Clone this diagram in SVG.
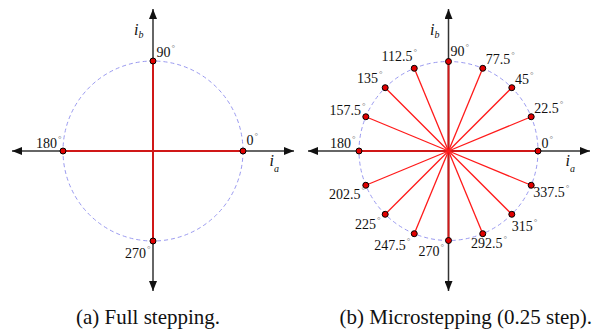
<svg xmlns="http://www.w3.org/2000/svg" width="596" height="332" viewBox="0 0 596 332">
<defs>
<marker id="ah" viewBox="0 0 10 8" refX="10" refY="4" markerWidth="10" markerHeight="8" markerUnits="userSpaceOnUse" orient="auto">
<path d="M0,0 L10,4 L0,8 Z" fill="#111"/>
</marker>
</defs>
<style>
.axis{stroke:#333;stroke-width:1.5;fill:none}
.circ{stroke:#9a9af0;stroke-width:1;stroke-dasharray:4 3;fill:none}
.main{stroke:#d01818;stroke-width:2;fill:none}
.ray{stroke:#ff1a1a;stroke-width:1.3;fill:none}
.dot{fill:#e00000;stroke:#000;stroke-width:1}
text{font-family:"Liberation Serif","Times New Roman",serif;fill:#111}
.lbl{font-size:14px}
.deg{font-size:9px;fill:#777}
.var{font-size:16px;font-style:italic}
.sub{font-size:10px;font-style:italic}
.cap{font-size:21px}
</style>

<g id="panel-a">
<g id="a-connectors">
<circle class="circ" cx="153" cy="151" r="90"/>
<line class="axis" x1="153" y1="151" x2="294" y2="151" marker-end="url(#ah)"/>
<line class="axis" x1="153" y1="151" x2="12" y2="151" marker-end="url(#ah)"/>
<line class="axis" x1="153" y1="151" x2="153" y2="9" marker-end="url(#ah)"/>
<line class="axis" x1="153" y1="151" x2="153" y2="291" marker-end="url(#ah)"/>
<line class="main" x1="63" y1="151" x2="243" y2="151"/>
<line class="main" x1="153" y1="61" x2="153" y2="241"/>
</g>
<g id="a-p0"><circle class="dot" cx="243" cy="151" r="3"/><text class="lbl" x="246.5" y="145">0<tspan class="deg" dx="1" dy="-6">°</tspan></text></g>
<g id="a-p90"><circle class="dot" cx="153" cy="61" r="3"/><text class="lbl" x="156.5" y="56.5">90<tspan class="deg" dx="1" dy="-6">°</tspan></text></g>
<g id="a-p180"><circle class="dot" cx="63" cy="151" r="3"/><text class="lbl" x="36" y="148.3">180<tspan class="deg" dx="1" dy="-6">°</tspan></text></g>
<g id="a-p270"><circle class="dot" cx="153" cy="241" r="3"/><text class="lbl" x="125" y="258.3">270<tspan class="deg" dx="1" dy="-6">°</tspan></text></g>
<g id="a-ia"><text class="var" x="269.5" y="166">i</text><text class="sub" x="274" y="172">a</text></g>
<g id="a-ib"><text class="var" x="134" y="35">i</text><text class="sub" x="138.5" y="38">b</text></g>
<text class="cap" x="76" y="323.5">(a) Full stepping.</text>
</g>

<g id="panel-b">
<g id="b-connectors">
<circle class="circ" cx="448.5" cy="151" r="89.5"/>
<line class="axis" x1="448.5" y1="151" x2="590" y2="151" marker-end="url(#ah)"/>
<line class="axis" x1="448.5" y1="151" x2="308" y2="151" marker-end="url(#ah)"/>
<line class="axis" x1="448.5" y1="151" x2="448.5" y2="9" marker-end="url(#ah)"/>
<line class="axis" x1="448.5" y1="151" x2="448.5" y2="291" marker-end="url(#ah)"/>
<line class="main" x1="359" y1="151" x2="538" y2="151"/>
<line class="main" x1="448.5" y1="61.5" x2="448.5" y2="240.5"/>
<line class="ray" x1="448.5" y1="151" x2="531.2" y2="116.75"/>
<line class="ray" x1="448.5" y1="151" x2="511.8" y2="87.7"/>
<line class="ray" x1="448.5" y1="151" x2="482.75" y2="68.3"/>
<line class="ray" x1="448.5" y1="151" x2="414.25" y2="68.3"/>
<line class="ray" x1="448.5" y1="151" x2="385.2" y2="87.7"/>
<line class="ray" x1="448.5" y1="151" x2="365.8" y2="116.75"/>
<line class="ray" x1="448.5" y1="151" x2="365.8" y2="185.25"/>
<line class="ray" x1="448.5" y1="151" x2="385.2" y2="214.3"/>
<line class="ray" x1="448.5" y1="151" x2="414.25" y2="233.7"/>
<line class="ray" x1="448.5" y1="151" x2="482.75" y2="233.7"/>
<line class="ray" x1="448.5" y1="151" x2="511.8" y2="214.3"/>
<line class="ray" x1="448.5" y1="151" x2="531.2" y2="185.25"/>
</g>
<g id="b-p0"><circle class="dot" cx="538" cy="151" r="3"/><text class="lbl" x="541.5" y="148.3">0<tspan class="deg" dx="1" dy="-6">°</tspan></text></g>
<g id="b-p22"><circle class="dot" cx="531.2" cy="116.75" r="3"/><text class="lbl" x="534.3" y="113.3">22.5<tspan class="deg" dx="1" dy="-6">°</tspan></text></g>
<g id="b-p45"><circle class="dot" cx="511.8" cy="87.7" r="3"/><text class="lbl" x="515" y="84.3">45<tspan class="deg" dx="1" dy="-6">°</tspan></text></g>
<g id="b-p67"><circle class="dot" cx="482.75" cy="68.3" r="3"/><text class="lbl" x="485.7" y="64">77.5<tspan class="deg" dx="1" dy="-6">°</tspan></text></g>
<g id="b-p90"><circle class="dot" cx="448.5" cy="61.5" r="3"/><text class="lbl" x="450.5" y="56.3">90<tspan class="deg" dx="1" dy="-6">°</tspan></text></g>
<g id="b-p112"><circle class="dot" cx="414.25" cy="68.3" r="3"/><text class="lbl" x="381.5" y="60.7">112.5<tspan class="deg" dx="1" dy="-6">°</tspan></text></g>
<g id="b-p135"><circle class="dot" cx="385.2" cy="87.7" r="3"/><text class="lbl" x="357" y="83.3">135<tspan class="deg" dx="1" dy="-6">°</tspan></text></g>
<g id="b-p157"><circle class="dot" cx="365.8" cy="116.75" r="3"/><text class="lbl" x="329.5" y="115.3">157.5<tspan class="deg" dx="1" dy="-6">°</tspan></text></g>
<g id="b-p180"><circle class="dot" cx="359" cy="151" r="3"/><text class="lbl" x="330" y="148.3">180<tspan class="deg" dx="1" dy="-6">°</tspan></text></g>
<g id="b-p202"><circle class="dot" cx="365.8" cy="185.25" r="3"/><text class="lbl" x="329" y="199.3">202.5<tspan class="deg" dx="1" dy="-6">°</tspan></text></g>
<g id="b-p225"><circle class="dot" cx="385.2" cy="214.3" r="3"/><text class="lbl" x="355" y="228.7">225<tspan class="deg" dx="1" dy="-6">°</tspan></text></g>
<g id="b-p247"><circle class="dot" cx="414.25" cy="233.7" r="3"/><text class="lbl" x="374.3" y="250">247.5<tspan class="deg" dx="1" dy="-6">°</tspan></text></g>
<g id="b-p270"><circle class="dot" cx="448.5" cy="240.5" r="3"/><text class="lbl" x="418.5" y="256">270<tspan class="deg" dx="1" dy="-6">°</tspan></text></g>
<g id="b-p292"><circle class="dot" cx="482.75" cy="233.7" r="3"/><text class="lbl" x="471" y="248.3">292.5<tspan class="deg" dx="1" dy="-6">°</tspan></text></g>
<g id="b-p315"><circle class="dot" cx="511.8" cy="214.3" r="3"/><text class="lbl" x="511.7" y="231">315<tspan class="deg" dx="1" dy="-6">°</tspan></text></g>
<g id="b-p337"><circle class="dot" cx="531.2" cy="185.25" r="3"/><text class="lbl" x="533.3" y="196.7">337.5<tspan class="deg" dx="1" dy="-6">°</tspan></text></g>
<g id="b-ia"><text class="var" x="565.5" y="166">i</text><text class="sub" x="570" y="172">a</text></g>
<g id="b-ib"><text class="var" x="430" y="35">i</text><text class="sub" x="434.5" y="38">b</text></g>
<text class="cap" x="339.5" y="323.5">(b) Microstepping (0.25 step).</text>
</g>
</svg>
